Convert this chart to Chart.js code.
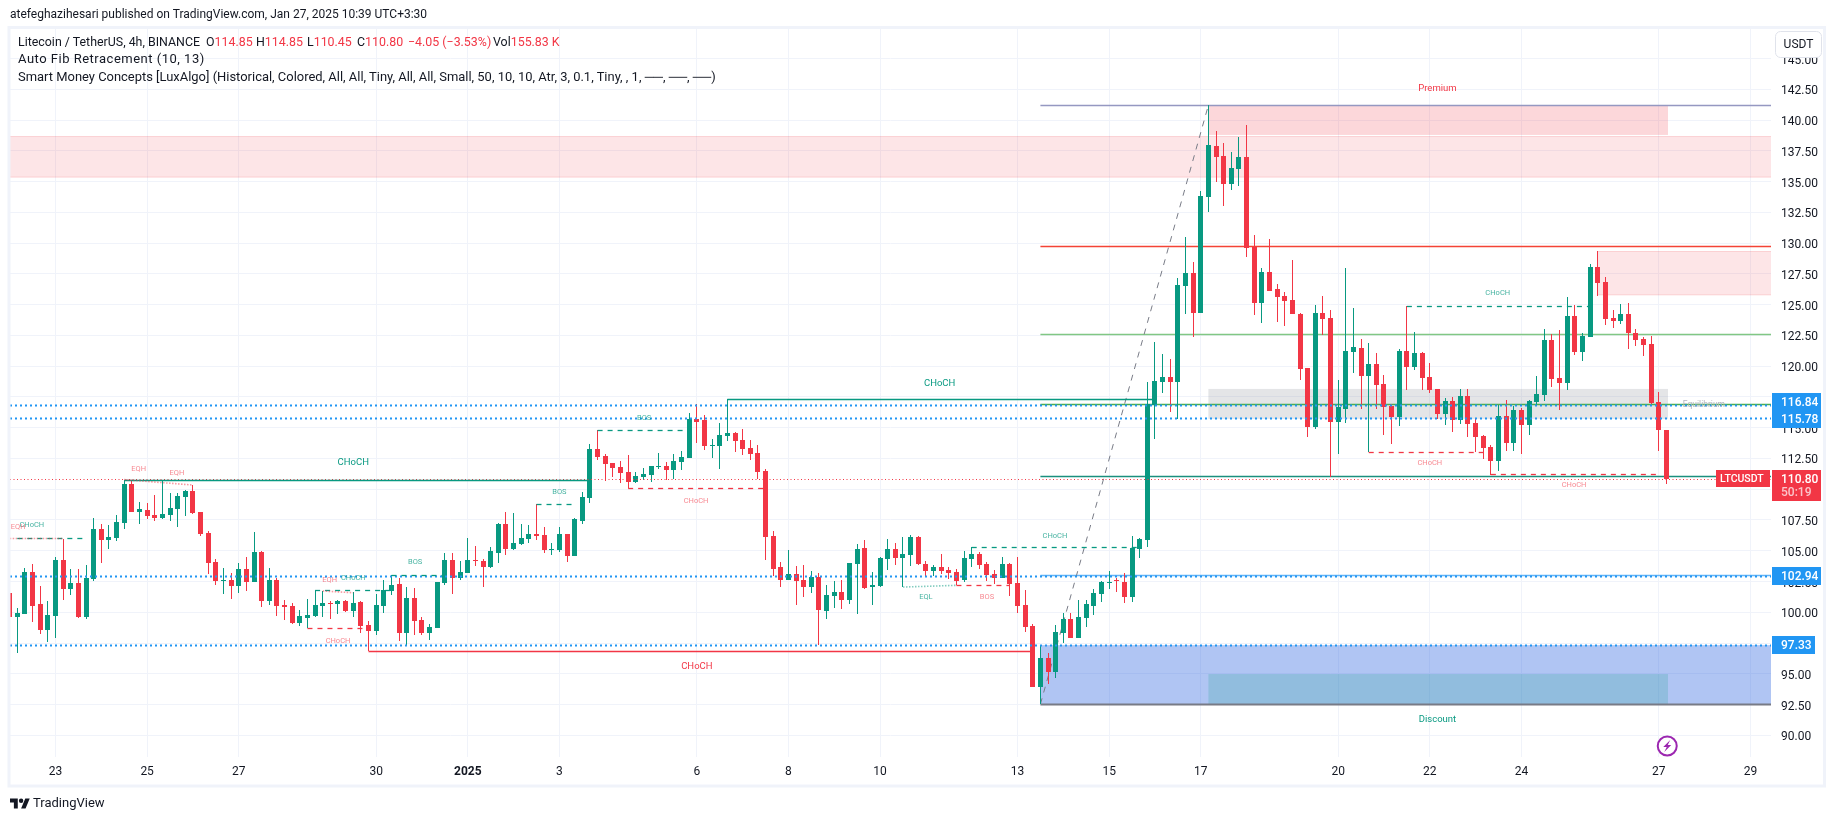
<!DOCTYPE html>
<html>
<head>
<meta charset="utf-8">
<title>LTCUSDT 4h</title>
<script src="https://cdn.jsdelivr.net/npm/chart.js@4/dist/chart.umd.js"></script>
<style>
  html, body { margin: 0; padding: 0; background: #fff; }
  #wrap { position: relative; width: 1835px; height: 821px; overflow: hidden; font-family: Roboto, sans-serif; color: #131722; }
  #myChart { position: absolute; left: 0; top: 0; }
  .txt { position: absolute; white-space: pre; font-size: 12.4px; line-height: 16px; }
  .red { color: #f23645; }
  #logo { position: absolute; left: 10px; top: 798px; width: 20px; height: 11px; }
</style>
</head>
<body>
<div id="wrap">
  <canvas id="myChart" width="1835" height="821"></canvas>
  <div class="txt" style="left:10px;top:6px;font-size:12px">atefeghazihesari published on TradingView.com, Jan 27, 2025 10:39 UTC+3:30</div>
  <div class="txt" style="left:18px;top:34px">Litecoin / TetherUS, 4h, BINANCE</div>
  <div class="txt" style="left:206px;top:34px">O<span class="red">114.85</span></div>
  <div class="txt" style="left:256px;top:34px">H<span class="red">114.85</span></div>
  <div class="txt" style="left:307px;top:34px">L<span class="red">110.45</span></div>
  <div class="txt" style="left:357px;top:34px">C<span class="red">110.80</span></div>
  <div class="txt red" style="left:408px;top:34px">−4.05 (−3.53%)</div>
  <div class="txt" style="left:493px;top:34px">Vol<span class="red">155.83 K</span></div>
  <div class="txt" style="left:18px;top:51px;font-size:13px;letter-spacing:0.5px">Auto Fib Retracement (10, 13)</div>
  <div class="txt" style="left:18px;top:69px;font-size:12.95px">Smart Money Concepts [LuxAlgo] (Historical, Colored, All, All, Tiny, All, All, Small, 50, 10, 10, Atr, 3, 0.1, Tiny, , 1, ──, ──, ──)</div>
  <svg id="logo" viewBox="0 4 36 18"><path d="M14 22H7V11H0V4h14v18zM28 22h-8l7.5-18h8L28 22z" fill="#131722"/><circle cx="20" cy="8" r="4" fill="#131722"/></svg>
  <div class="txt" style="left:33px;top:795px;font-size:13px">TradingView</div>
</div>
<script>
const opens = [
  101.56,99.64,99.89,103.27,100.67,98.58,99.73,104.25,101.92,102.38,
  99.64,102.73,106.77,105.90,106.06,107.28,110.42,108.18,108.31,107.90,
  107.69,107.93,108.42,109.39,109.85,108.15,106.44,104.08,102.57,102.62,
  102.16,103.52,102.49,104.90,100.94,102.62,100.59,100.51,99.15,99.56,
  99.73,100.54,100.75,100.70,100.92,100.13,100.83,98.96,98.50,100.54,
  101.75,102.30,98.34,101.16,99.37,98.34,98.75,102.40,104.25,102.78,
  103.22,104.25,104.17,103.71,104.84,107.17,105.17,105.57,105.98,106.36,
  106.28,105.06,105.09,106.36,104.60,107.44,109.31,113.27,112.70,112.13,
  111.80,111.40,110.61,111.02,111.18,111.80,111.89,111.59,112.24,112.56,
  115.71,115.62,113.54,113.54,114.35,114.57,114.00,113.35,112.94,111.48,
  106.20,103.68,102.65,103.11,102.62,102.08,102.86,100.13,101.32,101.65,
  101.02,103.95,105.22,102.08,102.13,104.35,105.14,104.44,104.68,106.11,
  103.92,103.38,103.68,103.43,103.27,102.62,104.35,104.73,103.92,103.11,
  102.78,103.92,102.38,100.59,98.88,93.95,96.28,95.17,98.31,99.45,
  97.93,99.56,100.51,101.51,102.40,102.59,102.46,101.24,105.17,105.87,
  116.84,118.71,119.12,118.71,126.51,127.57,124.32,133.75,137.89,137.08,
  134.80,136.02,137.00,129.68,125.13,127.65,126.27,125.70,125.38,124.24,
  119.85,115.05,124.32,123.91,115.46,116.52,121.15,121.48,119.20,120.18,
  118.55,116.76,115.87,121.23,119.93,121.07,119.12,118.14,116.11,117.17,
  115.62,117.57,115.38,114.32,113.43,112.29,115.95,113.75,116.44,115.22,
  117.09,117.66,122.13,119.04,118.63,124.08,121.15,122.37,128.06,126.84,
  123.91,123.67,124.24,122.70,122.21,121.80,117.09,114.85
];
const highs = [
  102.13,100.35,103.57,103.90,102.13,100.92,104.49,105.98,103.52,103.52,
  103.84,107.66,107.17,107.09,107.90,110.78,110.78,108.96,108.88,109.53,
  110.64,109.69,109.69,109.94,110.34,108.15,106.60,104.33,103.60,103.19,
  104.00,104.49,106.52,104.98,103.60,102.78,100.99,100.75,100.18,101.08,
  101.78,101.73,100.92,100.99,100.99,101.65,100.92,99.29,101.48,102.62,
  103.03,102.78,102.05,101.97,99.61,99.05,102.46,104.82,104.82,104.17,
  106.03,105.39,104.33,105.30,107.25,108.15,108.07,107.17,107.09,108.80,
  106.93,105.63,106.93,106.36,107.66,109.77,113.67,114.81,112.86,112.13,
  112.29,112.78,111.40,111.72,111.89,112.94,112.21,112.86,113.10,116.19,
  116.92,116.03,114.08,115.38,117.36,114.65,114.89,114.00,113.59,111.64,
  106.60,104.08,105.06,103.76,103.84,103.35,103.19,102.21,102.54,102.62,
  104.00,105.55,105.87,103.27,104.49,105.95,105.63,106.11,106.28,106.20,
  104.17,103.84,104.73,103.68,103.51,104.98,105.30,104.90,104.08,103.43,
  104.49,104.00,104.49,101.81,99.05,97.34,96.69,98.96,99.94,99.94,
  100.99,100.99,101.89,102.54,103.35,102.78,103.19,106.20,106.03,118.70,
  121.96,120.99,120.58,127.16,130.50,128.46,134.24,141.20,139.11,138.14,
  137.40,138.62,139.60,130.66,127.98,130.33,126.68,126.03,128.63,124.32,
  119.85,124.97,125.70,124.56,118.87,127.98,124.73,122.21,121.88,121.07,
  119.28,116.92,121.39,124.89,122.78,121.15,120.26,118.14,117.41,117.49,
  118.14,118.14,115.70,114.40,113.59,116.84,117.25,116.76,116.60,117.25,
  119.20,123.02,122.61,122.94,125.62,124.97,122.70,128.30,129.36,127.24,
  124.56,125.05,125.13,123.02,122.37,122.45,117.90,114.85
];
const lows = [
  98.83,96.66,99.89,99.23,98.26,97.61,97.93,101.02,101.43,99.56,
  99.48,102.57,104.03,105.17,105.82,106.79,108.18,107.20,107.61,107.44,
  107.61,107.44,106.96,107.85,108.01,106.22,103.14,102.24,101.51,101.10,
  101.59,101.75,102.49,100.45,100.62,99.73,99.40,99.07,98.91,98.69,
  99.64,99.64,99.48,99.89,100.05,99.64,98.34,96.85,98.18,99.97,
  101.43,97.69,97.37,98.18,98.18,97.77,98.75,102.24,101.51,102.64,
  103.22,103.79,102.08,103.62,104.03,104.68,105.09,105.49,105.66,105.90,
  104.84,104.68,104.92,104.11,104.60,107.20,108.91,112.40,110.69,111.02,
  110.53,110.07,110.53,110.77,110.61,111.67,110.77,110.86,111.59,112.56,
  113.78,113.21,112.56,111.67,113.94,113.05,112.81,112.40,110.86,104.27,
  102.97,102.08,102.65,100.62,101.27,101.59,97.34,99.45,100.35,100.29,
  100.67,99.86,101.92,100.59,102.08,103.43,103.84,102.05,103.76,103.87,
  102.86,102.95,103.11,102.70,102.21,102.46,103.68,103.54,102.57,102.30,
  102.78,101.35,99.97,98.40,93.95,92.54,94.17,94.68,97.50,97.93,
  97.93,98.80,99.78,100.83,101.89,101.65,100.74,100.83,104.41,105.30,
  114.08,117.82,116.27,115.70,124.24,122.37,124.32,132.53,134.97,133.02,
  134.32,134.64,128.87,124.16,123.50,126.11,123.59,123.26,124.24,118.87,
  114.24,114.89,122.53,110.99,112.86,115.38,119.44,116.52,113.02,116.52,
  114.40,113.67,115.14,118.06,119.69,118.06,117.82,115.70,115.22,114.65,
  115.30,114.24,113.02,112.45,111.15,111.48,113.10,113.10,112.86,114.40,
  116.84,117.17,118.31,116.44,118.06,120.91,120.42,122.37,125.70,123.34,
  123.10,123.43,121.39,121.64,120.83,116.92,113.10,110.45
];
const closes = [
  99.64,99.94,103.27,100.54,98.58,99.78,104.25,101.92,102.38,99.64,
  102.78,106.77,105.90,106.12,107.33,110.42,108.18,108.39,107.85,107.69,
  107.99,108.47,109.45,109.85,108.09,106.39,104.03,102.57,102.62,102.16,
  103.52,102.49,104.90,100.94,102.62,100.54,100.45,99.15,99.70,99.78,
  100.59,100.75,100.70,100.92,100.13,100.75,98.91,98.50,100.59,101.81,
  102.22,98.34,101.16,99.32,98.34,98.80,102.46,104.25,102.78,103.27,
  104.25,104.17,103.71,104.98,107.17,105.17,105.63,106.03,106.36,106.22,
  105.09,105.14,106.36,104.60,107.58,109.37,113.27,112.64,112.08,111.75,
  111.34,110.61,111.07,111.24,111.89,111.89,111.59,112.29,112.62,115.71,
  115.49,113.54,113.59,114.40,114.57,113.94,113.30,112.89,111.43,106.14,
  103.54,102.65,103.11,102.57,102.08,102.86,100.21,101.40,101.65,101.02,
  104.00,105.14,102.00,102.21,104.41,105.14,104.44,104.73,106.11,103.95,
  103.38,103.68,103.38,103.22,102.57,104.41,104.73,103.87,103.05,102.78,
  103.92,102.32,100.54,98.83,93.95,96.28,95.17,98.40,99.45,97.93,
  99.61,100.67,101.56,102.46,102.46,102.54,101.24,105.22,105.95,116.90,
  118.79,119.12,118.71,126.60,127.57,124.32,133.83,137.97,137.00,134.80,
  136.10,137.00,129.60,125.13,127.65,126.11,125.62,125.30,124.24,119.77,
  115.05,124.32,123.83,115.46,116.68,121.23,121.56,119.20,120.18,118.47,
  116.68,115.87,121.23,119.93,121.07,119.04,118.06,116.11,117.17,115.62,
  117.57,115.30,114.24,113.35,112.29,115.95,113.75,116.44,115.22,117.17,
  117.74,122.13,118.96,118.63,124.08,121.15,122.45,128.06,126.76,123.83,
  123.67,124.24,122.70,122.13,121.72,117.01,114.81,110.80
];

// time axis, bar number of each labelled day
const dayBars = [6,18,30,48,60,72,90,102,114,132,144,156,174,186,198,216,228];
const dayLabels = ['23','25','27','30','2025','3','6','8','10','13','15','17','20','22','24','27','29'];

// horizontal levels, prices
const dottedLevels = [116.84,115.78,102.94,97.33];
const lastPrice = 110.80;
const fibStartBar = 135;
const fibEndBar = 157;
const fibLevels = [141.20,129.77,122.59,116.90,111.10,103.00,92.54];

// zones [fromBar, toBar, top, bottom], toBar null = right edge
const supplyZones = [[0,null,138.70,135.33],[208,null,129.36,125.76]];
const premiumZone = [157,217.2,141.20,138.79];
const equilibriumZone = [157,217.2,118.15,115.72];
const discountZone = [135,null,97.33,92.54];
const strongLowZone = [157,217.2,94.98,92.54];

// structure lines [fromBar, toBar, price]
const greenSolid = [[15,76,110.78],[94,150,117.36]];
const redSolid = [[47,134,96.85]];
const greenDashed = [[1,10,106.0],[40,50,101.78],[50,57,103.0],[69,74,108.77],[77,89,114.81],[126,148,105.27],[183,207,124.86]];
const redDashed = [[39,47,98.69],[81,99,110.07],[124,131,102.19],[178,193,112.99],[194,216,111.21]];
// equal highs / lows [bar1, price1, bar2, price2]
const eqhLines = [[0,106.0,7,106.0],[15,110.78,24,110.34],[41,101.73,45,101.59]];
const eqlLines = [[117,102.05,124,102.19]];

// text labels [text, bar, price]
const bigGreenLabels = [['CHoCH',45,112.13],['CHoCH',121.8,118.55]];
const bigRedLabels = [['CHoCH',90,95.55]];
const smallGreenLabels = [['CHoCH',2.9,107.09],['BOS',53.1,104.08],['BOS',72,109.77],['BOS',83.1,115.79],['EQL',120,101.24],['CHoCH',45,102.78],['CHoCH',136.9,106.2],['CHoCH',194.9,125.95]];
const smallRedLabels = [['EQH',1.1,106.93],['EQH',16.9,111.64],['EQH',21.9,111.31],['EQH',41.9,102.62],['CHoCH',43,97.66],['CHoCH',89.9,109.04],['BOS',128,101.24],['CHoCH',186,112.13],['CHoCH',204.9,110.34]];

const UP = '#089981';
const DOWN = '#f23645';
const FONT = 'Roboto, sans-serif';
const candleColors = opens.map((o, i) => closes[i] >= o ? UP : DOWN);

const overlay = {
  id: 'overlay',
  afterDatasetsUpdate(chart) {
    // pixel snap, so candles are crisp
    chart.data.datasets.forEach((d, n) => {
      chart.getDatasetMeta(n).data.forEach(b => {
        b.x = Math.floor(b.x) + 0.5;
        const top = Math.round(b.y);
        let base = Math.round(b.base);
        if (top === base) base = top + 1;
        b.y = top;
        b.base = base;
      });
    });
  },
  beforeDraw(chart) {
    // price labels sit a little low in the original
    const Y = chart.scales.y;
    Y._labelItems = Y._computeLabelItems(chart.chartArea);
    Y._labelItems.forEach(it => { it.options.translation[1] += 2; });
  },
  beforeDatasetsDraw(chart) {
    const c = chart.ctx, X = chart.scales.x, Y = chart.scales.y, A = chart.chartArea;
    const box = (z, fill, edge) => {
      const x1 = X.getPixelForValue(z[0]), x2 = z[1] === null ? A.right : X.getPixelForValue(z[1]);
      const y1 = Y.getPixelForValue(z[2]), y2 = Y.getPixelForValue(z[3]);
      c.fillStyle = fill;
      c.fillRect(x1, y1, x2 - x1, y2 - y1);
      if (edge) {
        c.fillStyle = edge;
        c.fillRect(x1, y1, x2 - x1, 1);
        c.fillRect(x1, y2 - 1, x2 - x1, 1);
      }
    };
    c.save();
    supplyZones.forEach(z => box(z, 'rgba(242,54,69,0.13)', 'rgba(242,54,69,0.12)'));
    box(premiumZone, 'rgba(242,54,69,0.2)');
    box(equilibriumZone, 'rgba(120,123,134,0.2)');
    box(discountZone, 'rgba(41,98,222,0.37)');
    box(strongLowZone, 'rgba(8,153,129,0.18)');
    // fib levels
    const fibColors = ['#9598c1','#f44336','#81c784','#4caf50','#1a8f7e','#64b5f6','#787b86'];
    const fx = X.getPixelForValue(fibStartBar);
    fibLevels.forEach((p, i) => {
      const y = Math.round(Y.getPixelForValue(p)) + 0.5;
      c.strokeStyle = fibColors[i];
      c.lineWidth = i === 6 ? 2 : 1.4;
      c.beginPath(); c.moveTo(fx, y); c.lineTo(A.right, y); c.stroke();
    });
    // fib trend line
    c.strokeStyle = '#787b86';
    c.lineWidth = 1;
    c.setLineDash([6, 6]);
    c.beginPath();
    c.moveTo(fx, Y.getPixelForValue(fibLevels[6]));
    c.lineTo(X.getPixelForValue(fibEndBar), Y.getPixelForValue(fibLevels[0]));
    c.stroke();
    c.restore();
  },
  afterDatasetsDraw(chart) {
    const c = chart.ctx, X = chart.scales.x, Y = chart.scales.y, A = chart.chartArea;
    const hline = (x1, x2, p, color, width, dash) => {
      const y = Math.round(Y.getPixelForValue(p)) + 0.5;
      c.strokeStyle = color;
      c.lineWidth = width;
      c.setLineDash(dash);
      c.beginPath(); c.moveTo(x1, y); c.lineTo(x2, y); c.stroke();
    };
    c.save();
    dottedLevels.forEach(p => hline(A.left, A.right, p, '#2196f3', 2, [2, 3]));
    hline(A.left, A.right, lastPrice, DOWN, 1, [1, 2.5]);
    greenSolid.forEach(s => hline(X.getPixelForValue(s[0]), X.getPixelForValue(s[1]), s[2], UP, 1.3, []));
    redSolid.forEach(s => hline(X.getPixelForValue(s[0]), X.getPixelForValue(s[1]), s[2], DOWN, 1.3, []));
    greenDashed.forEach(s => hline(X.getPixelForValue(s[0]), X.getPixelForValue(s[1]), s[2], UP, 1.3, [5, 5]));
    redDashed.forEach(s => hline(X.getPixelForValue(s[0]), X.getPixelForValue(s[1]), s[2], DOWN, 1.3, [5, 5]));
    const slant = (s, color) => {
      c.strokeStyle = color;
      c.lineWidth = 1.6;
      c.setLineDash([1.5, 1.5]);
      c.beginPath();
      c.moveTo(X.getPixelForValue(s[0]), Y.getPixelForValue(s[1]));
      c.lineTo(X.getPixelForValue(s[2]), Y.getPixelForValue(s[3]));
      c.stroke();
    };
    eqhLines.forEach(s => slant(s, 'rgba(242,54,69,0.5)'));
    eqlLines.forEach(s => slant(s, 'rgba(8,153,129,0.5)'));
    c.setLineDash([]);

    // texts
    c.textAlign = 'center';
    c.textBaseline = 'middle';
    const put = (list, font, color) => {
      c.font = font;
      c.fillStyle = color;
      list.forEach(t => c.fillText(t[0], X.getPixelForValue(t[1]), Y.getPixelForValue(t[2])));
    };
    put(bigGreenLabels, '9.5px ' + FONT, UP);
    put(bigRedLabels, '9.5px ' + FONT, DOWN);
    put(smallGreenLabels, '7.5px ' + FONT, 'rgba(8,153,129,0.75)');
    put(smallRedLabels, '7.5px ' + FONT, 'rgba(242,54,69,0.6)');
    put([['Premium', 187, 142.52]], '9.5px ' + FONT, DOWN);
    put([['Discount', 187, 91.3]], '9.5px ' + FONT, UP);
    put([['Equilibrium', 221.9, 116.84]], '8.5px ' + FONT, '#b2b5be');
    c.restore();
  },
  afterDraw(chart) {
    const c = chart.ctx, X = chart.scales.x, Y = chart.scales.y, A = chart.chartArea;
    c.save();
    // frame
    c.strokeStyle = '#f0f3fa';
    c.lineWidth = 3;
    c.strokeRect(9, 27.5, 1815.5, 758.5);

    // price tags on the axis
    c.textAlign = 'left';
    c.textBaseline = 'middle';
    const tag = (p, w, dy) => {
      const y = Math.round(Y.getPixelForValue(p)) + dy;
      c.fillStyle = '#2196f3';
      c.fillRect(A.right + 1, y - 9, w, 18);
      c.fillStyle = '#fff';
      c.font = '500 12px ' + FONT;
      c.fillText(p.toFixed(2), A.right + 10, y + 1);
    };
    tag(dottedLevels[0], 49, -3);
    tag(dottedLevels[1], 49, 1);
    tag(dottedLevels[2], 49, 0);
    tag(dottedLevels[3], 43, 0);

    const ly = Math.round(Y.getPixelForValue(lastPrice));
    c.fillStyle = DOWN;
    c.fillRect(A.right + 1, ly - 9, 49, 31);
    c.fillRect(A.right - 55, ly - 9, 54, 17);
    c.fillStyle = '#fff';
    c.font = '500 12px ' + FONT;
    c.fillText(lastPrice.toFixed(2), A.right + 10, ly + 1);
    c.font = '500 10.5px ' + FONT;
    c.fillText('LTCUSDT', A.right - 51, ly);
    c.fillStyle = '#fbc5ca';
    c.font = '500 12px ' + FONT;
    c.fillText('50:19', A.right + 10, ly + 14);

    // currency button
    c.fillStyle = '#fff';
    c.strokeStyle = '#e0e3eb';
    c.lineWidth = 1;
    c.beginPath();
    c.roundRect(1775.5, 31.5, 46, 26, 5);
    c.fill();
    c.stroke();
    c.fillStyle = '#131722';
    c.font = '12px ' + FONT;
    c.textAlign = 'center';
    c.fillText('USDT', 1798.5, 45);

    // lightning marker
    const lx = X.getPixelForValue(217.1), lyy = 746;
    c.strokeStyle = '#9c27b0';
    c.lineWidth = 2;
    c.beginPath(); c.arc(lx, lyy, 9.5, 0, Math.PI * 2); c.stroke();
    c.fillStyle = '#9c27b0';
    c.beginPath();
    c.moveTo(lx + 3, lyy - 6); c.lineTo(lx - 4, lyy + 1); c.lineTo(lx - 0.5, lyy + 1);
    c.lineTo(lx - 3, lyy + 6); c.lineTo(lx + 4, lyy - 1); c.lineTo(lx + 0.5, lyy - 1);
    c.closePath(); c.fill();
    c.restore();
  }
};

const ctx = document.getElementById('myChart');

new Chart(ctx, {
  type: 'bar',
  data: {
    datasets: [
      {
        label: 'Wicks',
        data: opens.map((o, i) => ({ x: i, y: [lows[i], highs[i]] })),
        backgroundColor: candleColors,
        barThickness: 1,
        inflateAmount: 0,
        order: 2
      },
      {
        label: 'Bodies',
        data: opens.map((o, i) => ({ x: i, y: [o, closes[i]] })),
        backgroundColor: candleColors,
        barThickness: 5,
        inflateAmount: 0,
        order: 1
      }
    ]
  },
  plugins: [overlay],
  options: {
    responsive: false,
    animation: false,
    grouped: false,
    layout: { padding: { left: 10, top: 28, right: 11, bottom: 35 } },
    plugins: { legend: { display: false }, title: { display: false }, tooltip: { enabled: false } },
    scales: {
      x: {
        type: 'linear',
        offset: false,
        min: 0.04,
        max: 230.69,
        grid: { color: '#f0f3fa', offset: false, drawTicks: false },
        border: { display: false },
        afterBuildTicks: s => { s.ticks = dayBars.map(v => ({ value: v })); },
        afterFit: s => { s.height = 29; },
        ticks: {
          autoSkip: false,
          maxRotation: 0,
          padding: 8,
          color: '#131722',
          font: c => ({ family: FONT, size: 12, weight: dayLabels[c.index] === '2025' ? 'bold' : 'normal' }),
          callback: (v, i) => dayLabels[i]
        }
      },
      y: {
        position: 'right',
        min: 88.24,
        max: 147.48,
        grid: { color: '#f0f3fa', drawTicks: false },
        border: { display: false },
        afterFit: s => { s.width = 53; },
        ticks: {
          stepSize: 2.5,
          includeBounds: false,
          autoSkip: false,
          padding: 10,
          color: '#131722',
          font: { family: FONT, size: 12 },
          callback: v => v.toFixed(2)
        }
      }
    }
  }
});
</script>
</body>
</html>
